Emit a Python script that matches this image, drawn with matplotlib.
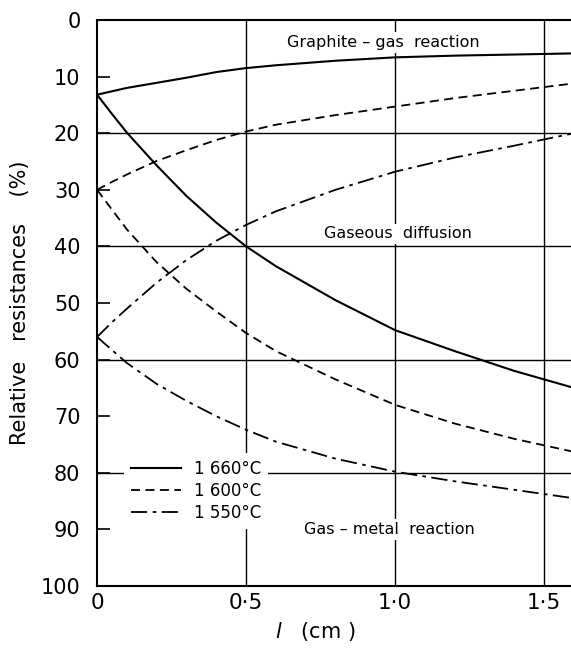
import matplotlib
matplotlib.use("Agg")
import matplotlib.pyplot as plt

# Distances l (cm) at which the curves were read
x_pts = [0, 0.05, 0.1, 0.2, 0.3, 0.4, 0.5, 0.6, 0.8, 1.0, 1.2, 1.4, 1.6]

# 1660 C: graphite-gas (upper) and gas-metal boundary (lower)
t1660_upper = [13.2, 12.6, 12.0, 11.1, 10.2, 9.2, 8.5, 8.0, 7.2, 6.6, 6.3, 6.1, 5.9]
t1660_lower = [13.2, 16.6, 19.9, 25.7, 31.1, 35.8, 40, 43.5, 49.5, 54.8, 58.5, 62, 65]

# 1600 C
t1600_upper = [30, 28.6, 27.3, 24.9, 23, 21.2, 19.7, 18.5, 16.8, 15.3, 13.8, 12.5, 11.2]
t1600_lower = [30, 33.5, 37, 42.8, 47.5, 51.5, 55.3, 58.5, 63.5, 68, 71.3, 74, 76.3]

# 1550 C
t1550_upper = [56, 53.4, 51.0, 46.4, 42.4, 39.0, 36.2, 33.8, 30, 26.8, 24.3, 22.2, 20]
t1550_lower = [56, 58.3, 60.6, 64.3, 67.3, 70.0, 72.4, 74.5, 77.5, 79.8, 81.5, 83, 84.5]

legend_labels = ["1 660\u00b0C", "1 600\u00b0C", "1 550\u00b0C"]
x_ticks = [0, 0.5, 1.0, 1.5]
x_ticklabels = ["0", "0\u00b75", "1\u00b70", "1\u00b75"]
y_ticks = list(range(0, 101, 10))

fig = plt.figure(figsize=(5.71, 6.51), dpi=100)
ax = fig.add_axes([0.170, 0.0998, 0.830, 0.8695])

# grid lines
for gx in [0.5, 1.0, 1.5]:
    ax.axvline(gx, color="black", lw=1.0, zorder=1)
for gy in [20, 40, 60, 80]:
    ax.axhline(gy, color="black", lw=1.0, zorder=1)

solid = "-"
dashed = (0, (5, 3))
dashdot = (0, (9, 3, 2, 3))

l1, = ax.plot(x_pts, t1660_upper, color="black", lw=1.5, ls=solid, zorder=3)
ax.plot(x_pts, t1660_lower, color="black", lw=1.5, ls=solid, zorder=3)
l2, = ax.plot(x_pts, t1600_upper, color="black", lw=1.3, ls=dashed, zorder=3)
ax.plot(x_pts, t1600_lower, color="black", lw=1.3, ls=dashed, zorder=3)
l3, = ax.plot(x_pts, t1550_upper, color="black", lw=1.3, ls=dashdot, zorder=3)
ax.plot(x_pts, t1550_lower, color="black", lw=1.3, ls=dashdot, zorder=3)

ax.set_xlim(0, 1.59)
ax.set_ylim(100, 0)

ax.spines["right"].set_visible(False)
for s in ["top", "left", "bottom"]:
    ax.spines[s].set_linewidth(1.5)

ax.set_yticks(y_ticks)
ax.set_yticklabels([str(v) for v in y_ticks])
ax.set_xticks(x_ticks)
ax.set_xticklabels(x_ticklabels)
ax.tick_params(axis="y", direction="in", length=9, width=1.2, labelsize=15, pad=12)
ax.tick_params(axis="x", length=0, labelsize=15.5, pad=5)

ax.set_ylabel("Relative   resistances    (%)", fontsize=15, labelpad=8)
ax.set_xlabel(r"$\mathit{l}$   (cm )", fontsize=15, labelpad=6)
ax.xaxis.set_label_coords(0.46, -0.06)

box = dict(facecolor="white", edgecolor="none", pad=2)
ax.text(0.96, 4.0, "Graphite \u2013 gas  reaction", fontsize=11.5,
        ha="center", va="center", bbox=box, zorder=2)
ax.text(1.01, 37.8, "Gaseous  diffusion", fontsize=11.5,
        ha="center", va="center", bbox=box, zorder=2)
ax.text(0.98, 90.0, "Gas \u2013 metal  reaction", fontsize=11.5,
        ha="center", va="center", bbox=box, zorder=2)

leg = ax.legend([l1, l2, l3], legend_labels, loc="upper left",
                bbox_to_anchor=(0.09, 76.5), bbox_transform=ax.transData,
                frameon=True, fontsize=12, handlelength=3.0, handletextpad=0.8,
                labelspacing=0.25, borderpad=0.4, borderaxespad=0)
leg.get_frame().set_facecolor("white")
leg.get_frame().set_edgecolor("none")
leg.get_frame().set_alpha(1)
leg.set_zorder(4)

fig.savefig("out.png", dpi=100)
